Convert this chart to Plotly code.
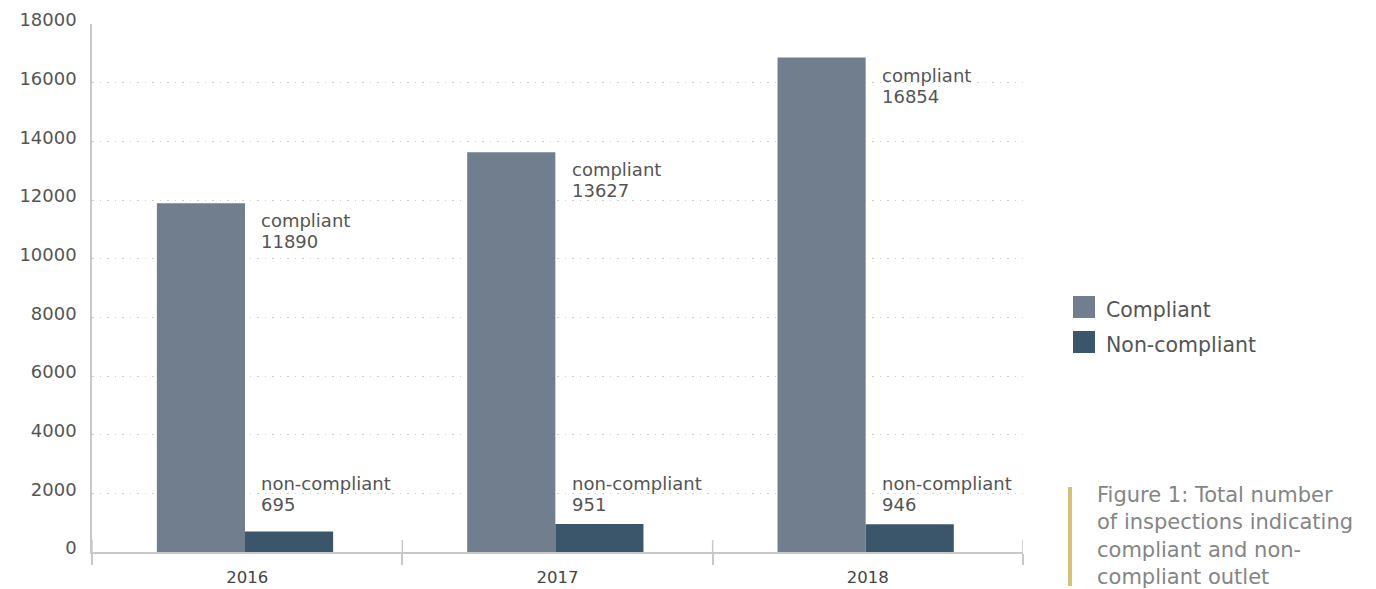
import plotly.graph_objects as go

# Inspection outcomes per year
years = ["2016", "2017", "2018"]
compliant = [11890, 13627, 16854]
non_compliant = [695, 951, 946]
series_names = ["Compliant", "Non-compliant"]
y_ticks = [0, 2000, 4000, 6000, 8000, 10000, 12000, 14000, 16000, 18000]
caption = "Figure 1: Total number<br>of inspections indicating<br>compliant and non-<br>compliant outlet"

COL_COMP = "#717e8e"
COL_NON = "#3b566b"
FONT = "DejaVu Sans"
TXT = "#555555"

W, H = 1376, 589
L, R, T, B = 92, 353, 24, 37
PW, PH = W - L - R, H - T - B

BAR_W = 0.284          # bar width in category units
OFF_C = -0.291         # left edge of the compliant bar relative to the category centre
OFF_N = OFF_C + BAR_W  # non-compliant bar sits right next to it
NON_LABEL_Y = 2750     # shared height of the non-compliant captions


def px_x(px):
    return (px - L) / PW


def px_y(py):
    return (H - B - py) / PH


fig = go.Figure()
fig.add_trace(go.Bar(x=years, y=compliant, name=series_names[0], width=BAR_W, offset=OFF_C,
                     marker=dict(color=COL_COMP, line=dict(width=0)), showlegend=False))
fig.add_trace(go.Bar(x=years, y=non_compliant, name=series_names[1], width=BAR_W, offset=OFF_N,
                     marker=dict(color=COL_NON, line=dict(width=0)), showlegend=False))

lab_font = dict(family=FONT, size=18, color=TXT)
annotations = []
for i, (c, n) in enumerate(zip(compliant, non_compliant)):
    for y, ys, txt in [(c, -5, "compliant"), (c, -26, str(c)),
                       (NON_LABEL_Y, 0, "non-compliant"), (NON_LABEL_Y, -21, str(n))]:
        annotations.append(dict(x=i, y=y, xref="x", yref="y", text=txt,
                                showarrow=False, xanchor="left", yanchor="top", align="left",
                                xshift=12, yshift=ys, font=lab_font))

shapes = []
# upper halves of the category boundary ticks
for b in [-0.5, 0.5, 1.5, 2.5]:
    shapes.append(dict(type="line", xref="x", yref="paper", x0=b, x1=b, y0=0, y1=px_y(540),
                       line=dict(color="#c8c8c8", width=1.5)))

# legend swatches and labels
for k, (name, col) in enumerate(zip(series_names, [COL_COMP, COL_NON])):
    top = 296 + 35 * k
    shapes.append(dict(type="rect", xref="paper", yref="paper",
                       x0=px_x(1073), x1=px_x(1095), y0=px_y(top + 22), y1=px_y(top),
                       fillcolor=col, line=dict(width=0)))
    annotations.append(dict(xref="paper", yref="paper", x=px_x(1104), y=px_y(top + 14),
                            text=name, showarrow=False, xanchor="left", yanchor="middle",
                            font=dict(family=FONT, size=20.5, color=TXT)))

# caption with accent bar
shapes.append(dict(type="rect", xref="paper", yref="paper",
                   x0=px_x(1068), x1=px_x(1072), y0=px_y(586), y1=px_y(487),
                   fillcolor="#d8bf78", line=dict(width=0)))
annotations.append(dict(xref="paper", yref="paper", x=px_x(1095), y=px_y(481),
                        text=caption, showarrow=False, xanchor="left", yanchor="top",
                        align="left", font=dict(family=FONT, size=21, color="#858585")))

fig.update_layout(
    width=W, height=H,
    margin=dict(l=L, r=R, t=T, b=B, pad=0, autoexpand=False),
    paper_bgcolor="white", plot_bgcolor="white",
    barmode="overlay",
    showlegend=False,
    shapes=shapes, annotations=annotations,
    font=dict(family=FONT, color=TXT),
)
fig.update_xaxes(
    type="category", range=[-0.5, 2.5], automargin=False,
    showline=True, linecolor="#c8c8c8", linewidth=1.5,
    showgrid=False, zeroline=False,
    ticks="outside", tickson="boundaries", ticklen=11, tickcolor="#c8c8c8", tickwidth=1.5,
    ticklabelstandoff=9,
    tickfont=dict(family=FONT, size=16.5, color="#444444"),
)
fig.update_yaxes(
    range=[0, 18000], tickvals=y_ticks, ticktext=[str(v) for v in y_ticks], automargin=False,
    showline=True, linecolor="#c8c8c8", linewidth=1.5,
    showgrid=True, gridcolor="#cdcdcd", gridwidth=1, griddash="1.5px,6px",
    zeroline=False, ticks="",
    ticklabelstandoff=10, ticklabelshift=-4,
    tickfont=dict(family=FONT, size=18, color=TXT),
)

fig.write_html("out.html")
